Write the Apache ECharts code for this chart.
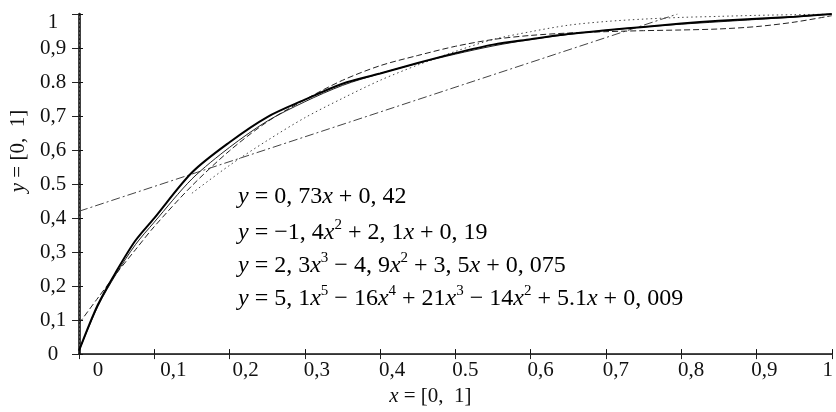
<!DOCTYPE html>
<html>
<head>
<meta charset="utf-8">
<script src="https://cdn.jsdelivr.net/npm/echarts@6/dist/echarts.min.js"></script>
<style>
  html, body { margin: 0; background: #fff; }
  #chart { width: 836px; height: 412px; }
</style>
</head>
<body>
<div id="chart"></div>
<script>
// values
const xs = [0, 0.025, 0.05, 0.075, 0.1, 0.15, 0.2, 0.25, 0.3, 0.35, 0.4, 0.45, 0.5, 0.55, 0.6, 0.65, 0.7, 0.75, 0.8, 0.85, 0.9, 0.95, 1];
const measured = [0.01, 0.145, 0.245, 0.334, 0.4, 0.534, 0.623, 0.697, 0.748, 0.795, 0.825, 0.856, 0.885, 0.91, 0.926, 0.941, 0.952, 0.962, 0.972, 0.98, 0.986, 0.992, 1];
const quintic = [0.01, 0.14, 0.238, 0.322, 0.388, 0.515, 0.608, 0.685, 0.742, 0.79, 0.825, 0.855, 0.882, 0.906, 0.925, 0.94, 0.952, 0.962, 0.97, 0.977, 0.984, 0.991, 1];
const cubic = [0.09, 0.165, 0.238, 0.307, 0.375, 0.495, 0.598, 0.683, 0.748, 0.805, 0.848, 0.878, 0.905, 0.925, 0.937, 0.944, 0.948, 0.951, 0.953, 0.956, 0.963, 0.976, 0.995];
const quadX = [0.15, 0.2, 0.25, 0.3, 0.35, 0.4, 0.45, 0.5, 0.55, 0.6, 0.65, 0.7, 0.75, 0.8, 0.85, 0.9, 0.95, 1];
const quadratic = [0.473, 0.555, 0.628, 0.695, 0.752, 0.805, 0.85, 0.89, 0.925, 0.948, 0.967, 0.978, 0.985, 0.99, 0.993, 0.996, 0.998, 1];
const linX = [0, 0.795];
const linear = [0.42, 1];

const xTickLabels = ['0', '0,1', '0,2', '0,3', '0,4', '0.5', '0,6', '0,7', '0,8', '0,9', '1'];
const yTickLabels = ['0', '0,1', '0,2', '0,3', '0,4', '0.5', '0,6', '0,7', '0.8', '0,9', '1'];

const equations = [
  '{i|y} = 0, 73{i|x} + 0, 42',
  '{i|y} = \u22121, 4{i|x}{s|2} + 2, 1{i|x} + 0, 19',
  '{i|y} = 2, 3{i|x}{s|3} \u2212 4, 9{i|x}{s|2} + 3, 5{i|x} + 0, 075',
  '{i|y} = 5, 1{i|x}{s|5} \u2212 16{i|x}{s|4} + 21{i|x}{s|3} \u2212 14{i|x}{s|2} + 5.1{i|x} + 0, 009'
];

const serif = 'Liberation Serif';
const pairs = (a, b) => a.map((x, i) => [x, b[i]]);
const eqRich = {
  i: { fontFamily: serif, fontSize: 24, fontStyle: 'italic', fill: '#000' },
  s: { fontFamily: serif, fontSize: 15, padding: [0, 0, 14, 0], fill: '#000' }
};

// the scanned tick labels sit a little right of their ticks
const xLabelShift = [19, 19, 16, 12, 12, 10, 10, 10, 10, 8, -4];

const chart = echarts.init(document.getElementById('chart'));

chart.setOption({
  animation: false,
  backgroundColor: '#fff',
  grid: { left: 76, right: 1, top: 14, bottom: 53 },
  xAxis: [
    {
      type: 'value', position: 'bottom', min: 0, max: 1, interval: 0.1,
      axisLine: { lineStyle: { color: '#111', width: 1.6 } },
      axisTick: { inside: true, length: 5, lineStyle: { color: '#111' } },
      splitLine: { show: false },
      axisLabel: {
        margin: 6, color: '#111', fontFamily: serif, fontSize: 21,
        formatter: v => {
          const i = Math.round(v * 10);
          return '{s' + i + '|' + xTickLabels[i] + '}';
        },
        rich: (() => {
          const r = {};
          xLabelShift.forEach((d, i) => {
            r['s' + i] = { fontFamily: serif, fontSize: 21, color: '#111',
              padding: d >= 0 ? [0, 0, 0, 2 * d] : [0, -2 * d, 0, 0] };
          });
          return r;
        })()
      },
      name: '{i|x} = [0,  1]',
      nameLocation: 'middle', nameGap: 31,
      nameTextStyle: {
        fontFamily: serif, fontSize: 21, color: '#111', padding: [0, 50, 0, 0],
        rich: { i: { fontFamily: serif, fontSize: 21, fontStyle: 'italic', color: '#111' } }
      }
    },
    {
      type: 'value', position: 'top', min: 0, max: 1, interval: 0.1,
      axisLine: { lineStyle: { color: '#333', width: 1 } },
      axisTick: { inside: true, length: 5, lineStyle: { color: '#222' } },
      axisLabel: { show: false },
      splitLine: { show: false }
    }
  ],
  yAxis: [
    {
      type: 'value', position: 'left', min: 0, max: 1, interval: 0.1,
      axisLine: { lineStyle: { color: '#000', width: 2.5 } },
      axisTick: { inside: true, length: 4, lineStyle: { color: '#111' } },
      splitLine: { show: false },
      axisLabel: {
        margin: 26, align: 'center', color: '#111', fontFamily: serif, fontSize: 21,
        formatter: v => {
          const i = Math.round(v * 10);
          return i === 10 ? '{top|1}' : yTickLabels[i];
        },
        rich: { top: { fontFamily: serif, fontSize: 21, color: '#111', padding: [16, 0, 0, 0] } }
      },
      name: '{i|y} = [0,  1]',
      nameLocation: 'middle', nameGap: 50,
      nameTextStyle: {
        fontFamily: serif, fontSize: 21, color: '#111', padding: [0, 0, 0, 66],
        rich: { i: { fontFamily: serif, fontSize: 21, fontStyle: 'italic', color: '#111' } }
      }
    },
    {
      type: 'value', position: 'right', min: 0, max: 1, interval: 0.1,
      axisLine: { lineStyle: { color: '#555', width: 1, type: [2, 2] } },
      axisTick: { inside: true, length: 7, lineStyle: { color: '#222' } },
      axisLabel: { show: false },
      splitLine: { show: false }
    }
  ],
  series: [
    {
      name: 'linear', type: 'line', data: pairs(linX, linear), showSymbol: false,
      lineStyle: { color: '#444', width: 1, type: [9, 3, 2, 3] }
    },
    {
      name: 'quadratic', type: 'line', data: pairs(quadX, quadratic), showSymbol: false,
      smooth: 0.3, lineStyle: { color: '#444', width: 1, type: [1.5, 3] }
    },
    {
      name: 'cubic', type: 'line', data: pairs(xs, cubic), showSymbol: false,
      smooth: 0.3, lineStyle: { color: '#222', width: 1, type: [6, 3] }
    },
    {
      name: 'quintic', type: 'line', data: pairs(xs, quintic), showSymbol: false,
      smooth: 0.3, lineStyle: { color: '#222', width: 1 }
    },
    {
      name: 'measured', type: 'line', data: pairs(xs, measured), showSymbol: false,
      smooth: 0.3, lineStyle: { color: '#000', width: 2 }, z: 5
    }
  ],
  graphic: equations.map((t, k) => ({
    type: 'text', left: 238, top: 185 + k * 33,
    style: {
      text: t, rich: eqRich, fill: '#000',
      font: '24px "Liberation Serif"'
    }
  }))
});
</script>
</body>
</html>
